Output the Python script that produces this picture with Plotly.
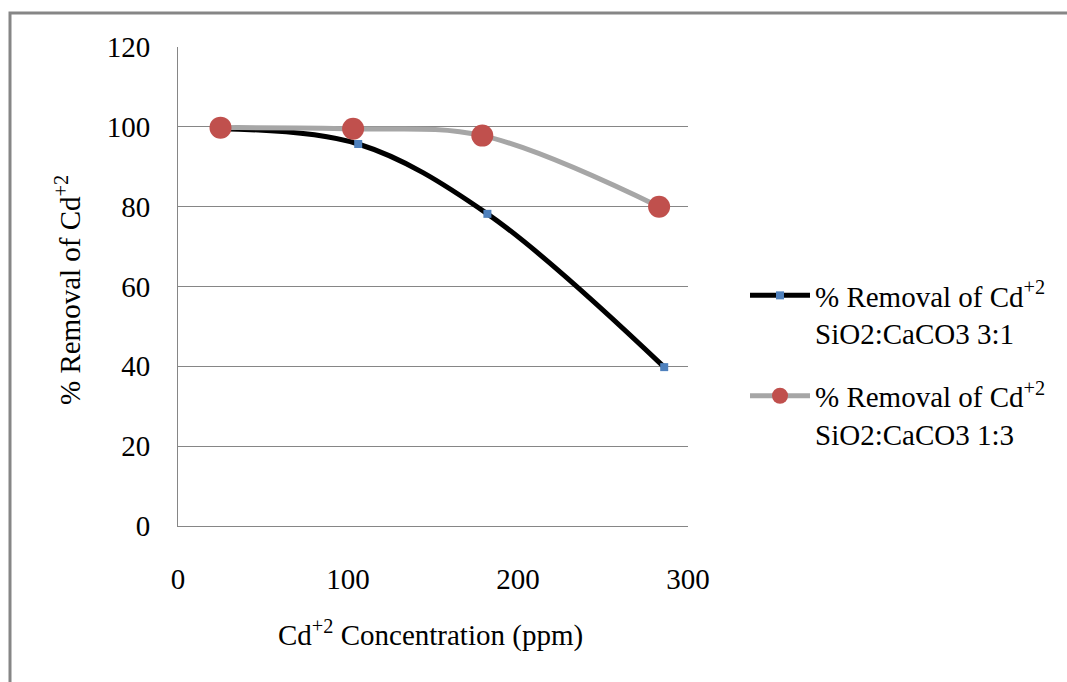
import plotly.graph_objects as go

# Data
conc_31 = [25, 106, 182, 286]
removal_31 = [99.5, 95.7, 78.2, 39.8]
conc_13 = [25, 103, 179, 283]
removal_13 = [99.8, 99.5, 97.8, 80.0]

name_31 = "% Removal of Cd<sup>+2</sup><br>SiO2:CaCO3 3:1"
name_13 = "% Removal of Cd<sup>+2</sup><br>SiO2:CaCO3 1:3"
x_ticks = [0, 100, 200, 300]
y_ticks = [0, 20, 40, 60, 80, 100, 120]

FONT = "Liberation Serif"
FS = 29
W, H = 1067, 682
L, R, T, B = 178, 688, 47, 526

def px2x(p):
    return (p - L) / (R - L)

def py2y(p):
    return (B - p) / (B - T)

fig = go.Figure()
fig.add_trace(go.Scatter(
    x=conc_31, y=removal_31, name=name_31, mode="lines+markers", legendgroup="a",
    line=dict(color="black", width=5, shape="spline", smoothing=1),
    marker=dict(symbol="square", size=8, color="#4F81BD"),
))
fig.add_trace(go.Scatter(
    x=conc_13, y=removal_13, name=name_13, mode="lines+markers", legendgroup="b",
    line=dict(color="#A6A6A6", width=5, shape="spline", smoothing=1),
    marker=dict(symbol="circle", size=22, color="#C0504D"),
))

fig.update_layout(
    width=W, height=H,
    margin=dict(l=L, r=W - R, t=T, b=H - B, pad=0),
    paper_bgcolor="white", plot_bgcolor="white",
    font=dict(family=FONT, size=FS, color="black"),
    showlegend=True,
    legend=dict(
        x=px2x(745), y=py2y(270), xanchor="left", yanchor="top",
        font=dict(family=FONT, size=FS, color="black"),
        itemwidth=60, valign="top", tracegroupgap=22,
        bgcolor="rgba(0,0,0,0)",
    ),
    xaxis=dict(
        range=[0, 300], tickvals=x_ticks, ticks="", showgrid=False,
        showline=True, linecolor="#868686", linewidth=1, zeroline=False,
        ticklabelstandoff=27, tickfont=dict(family=FONT, size=FS),
    ),
    yaxis=dict(
        range=[0, 120], tickvals=y_ticks, ticks="", showgrid=True,
        gridcolor="#868686", gridwidth=1,
        showline=True, linecolor="#868686", linewidth=1, zeroline=False,
        ticklabelstandoff=21, tickfont=dict(family=FONT, size=FS),
    ),
    annotations=[
        dict(text="% Removal of Cd<sup>+2</sup>", xref="paper", yref="paper",
             x=px2x(68), y=py2y(290), textangle=-90, showarrow=False,
             xanchor="center", yanchor="middle", font=dict(family=FONT, size=FS)),
        dict(text="Cd<sup>+2</sup> Concentration (ppm)", xref="paper", yref="paper",
             x=px2x(430), y=py2y(633), showarrow=False,
             xanchor="center", yanchor="middle", font=dict(family=FONT, size=FS)),
    ],
    shapes=[
        dict(type="rect", xref="paper", yref="paper",
             x0=px2x(10), x1=px2x(1090), y0=py2y(700), y1=py2y(13),
             line=dict(color="#868686", width=3), layer="below"),
    ],
)

fig.write_html("out.html")
